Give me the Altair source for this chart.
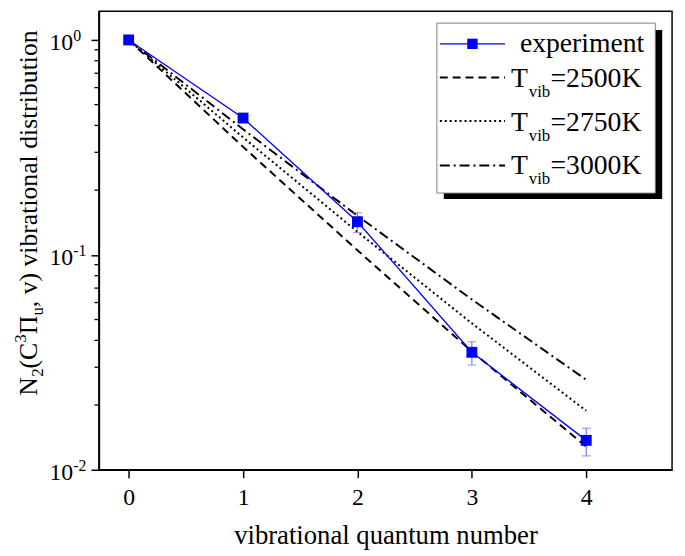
import altair as alt
import pandas as pd

FONT = "'Liberation Serif', 'Times New Roman', Times, 'DejaVu Serif', serif"

# ---- data ----
v = [0, 1, 2, 3, 4]
experiment = [1.0, 0.433, 0.1426, 0.0352, 0.0137]
err_lo = [1.0, 0.418, 0.127, 0.0307, 0.0116]
err_hi = [1.0, 0.449, 0.157, 0.0394, 0.0156]
t2500 = [1.0, 0.318, 0.105, 0.0355, 0.0128]
t2750 = [1.0, 0.352, 0.128, 0.048, 0.0188]
t3000 = [1.0, 0.384, 0.152, 0.062, 0.0262]

x_ticks = [0, 1, 2, 3, 4]
y_major = [1, 0.1, 0.01]
y_exp_labels = ["0", "-1", "-2"]
y_minor = [k * 0.01 for k in range(2, 10)] + [k * 0.1 for k in range(2, 10)]

series_names = ["T_vib=2500K", "T_vib=2750K", "T_vib=3000K"]
legend_temps = ["=2500K", "=2750K", "=3000K"]

# ---- styling ----
DASHES = [[8, 5], [2, 3], [10, 4, 2, 4]]
BLUE = "#0000FF"
ERR = "#7878FF"

xs = alt.Scale(domain=[-0.26, 4.75], nice=False, zero=False)
ys = alt.Scale(type="log", domain=[0.01, 1.36], nice=False)

x_axis = alt.Axis(values=x_ticks, format="d", title="vibrational quantum number",
                  tickSize=8, labelFontSize=24, titleFontSize=27, labelPadding=8,
                  titlePadding=14, grid=False, labelAngle=0)
y_axis = alt.Axis(values=y_major, labels=False, title=None, tickSize=8, grid=False)


def X(f):
    return alt.X(f, type="quantitative", scale=xs, axis=x_axis)


def Y(f):
    return alt.Y(f, type="quantitative", scale=ys, axis=y_axis)


df_exp = pd.DataFrame({"v": v, "val": experiment, "lo": err_lo, "hi": err_hi})

layers = []
for name, vals, dash in zip(series_names, [t2500, t2750, t3000], DASHES):
    d = pd.DataFrame({"v": v, "val": vals, "s": name})
    layers.append(alt.Chart(d).mark_line(color="black", strokeWidth=2, strokeDash=dash)
                  .encode(x=X("v"), y=Y("val")))

layers.append(alt.Chart(df_exp).mark_line(color=BLUE, strokeWidth=1.3)
              .encode(x=X("v"), y=Y("val")))
layers.append(alt.Chart(df_exp).mark_rule(color=ERR, strokeWidth=1.2)
              .encode(x=X("v"), y=Y("lo"), y2="hi"))
layers.append(alt.Chart(df_exp).mark_tick(color=ERR, orient="horizontal", size=9, thickness=1.2)
              .encode(x=X("v"), y=Y("lo")))
layers.append(alt.Chart(df_exp).mark_tick(color=ERR, orient="horizontal", size=9, thickness=1.2)
              .encode(x=X("v"), y=Y("hi")))
layers.append(alt.Chart(df_exp).mark_square(color=BLUE, size=121, opacity=1)
              .encode(x=X("v"), y=Y("val")))

# minor ticks on the log axis
df_minor = pd.DataFrame({"m": y_minor})
layers.append(alt.Chart(df_minor).mark_rule(color="black", strokeWidth=1.3)
              .encode(y=Y("m"), x=alt.value(-4.5), x2=alt.value(0)))

# y tick labels 10^k
df_ylab = pd.DataFrame({"val": y_major, "base": ["10"] * 3, "e": y_exp_labels})
layers.append(alt.Chart(df_ylab).mark_text(align="right", baseline="middle", fontSize=24,
                                           font=FONT, color="black", dy=3)
              .encode(y=Y("val"), x=alt.value(-26), text="base"))
layers.append(alt.Chart(df_ylab).mark_text(align="left", baseline="middle", fontSize=16,
                                           font=FONT, color="black", dy=-4)
              .encode(y=Y("val"), x=alt.value(-26), text="e"))

one = pd.DataFrame({"a": [0]})

# y axis title built from pieces (rotated)
title_pieces = [
    ("N", 26, -63, 389),
    ("2", 17, -57, 370),
    ("(C", 26, -63, 361.5),
    ("3", 17, -74, 335.5),
    ("\u03a0", 26, -63, 327),
    ("u", 17, -57, 308),
    (", v) vibrational distribution", 26, -63, 299.5),
]
for txt, fs, px, py in title_pieces:
    layers.append(alt.Chart(one).mark_text(text=txt, fontSize=fs, font=FONT, color="black",
                                           align="left", baseline="alphabetic", angle=270)
                  .encode(x=alt.value(px), y=alt.value(py)))

# legend: shadow, box, entries
layers.append(alt.Chart(one).mark_rect(color="black")
              .encode(x=alt.value(349), x2=alt.value(570), y=alt.value(19), y2=alt.value(190)))
layers.append(alt.Chart(one).mark_rect(fill="white", stroke="#808080", strokeWidth=1)
              .encode(x=alt.value(342), x2=alt.value(563), y=alt.value(12), y2=alt.value(184)))

layers.append(alt.Chart(one).mark_rule(color=BLUE, strokeWidth=1.3)
              .encode(x=alt.value(345), x2=alt.value(411), y=alt.value(33)))
layers.append(alt.Chart(one).mark_square(color=BLUE, size=110, opacity=1)
              .encode(x=alt.value(378), y=alt.value(33)))
layers.append(alt.Chart(one).mark_text(text="experiment", fontSize=28, font=FONT, color="black",
                                       align="left", baseline="alphabetic")
              .encode(x=alt.value(426), y=alt.value(41)))

row_line_y = [67, 111, 156]
row_base_y = [77, 121, 165]
for dash, ly, by, temp in zip(DASHES, row_line_y, row_base_y, legend_temps):
    layers.append(alt.Chart(one).mark_rule(color="black", strokeWidth=2, strokeDash=dash)
                  .encode(x=alt.value(345), x2=alt.value(411), y=alt.value(ly)))
    layers.append(alt.Chart(one).mark_text(text="T", fontSize=28, font=FONT, color="black",
                                           align="left", baseline="alphabetic")
                  .encode(x=alt.value(417), y=alt.value(by)))
    layers.append(alt.Chart(one).mark_text(text="vib", fontSize=17, font=FONT, color="black",
                                           align="left", baseline="alphabetic")
                  .encode(x=alt.value(435), y=alt.value(by + 10)))
    layers.append(alt.Chart(one).mark_text(text=temp, fontSize=28, font=FONT, color="black",
                                           align="left", baseline="alphabetic")
                  .encode(x=alt.value(457), y=alt.value(by)))

chart = alt.layer(*layers).properties(
    width=580, height=464,
    autosize=alt.AutoSizeParams(type="none"),
    padding={"left": 92, "top": 0, "right": 5, "bottom": 84},
    background="white",
).configure_axis(
    labelFont=FONT, titleFont=FONT, labelColor="black", titleColor="black",
    domainColor="black", tickColor="black", domainWidth=1.5, tickWidth=1.5,
    titleFontWeight="normal",
).configure_view(stroke="black", strokeWidth=1.5)

chart.save("out.html", embed_options={"renderer": "svg", "actions": False})
